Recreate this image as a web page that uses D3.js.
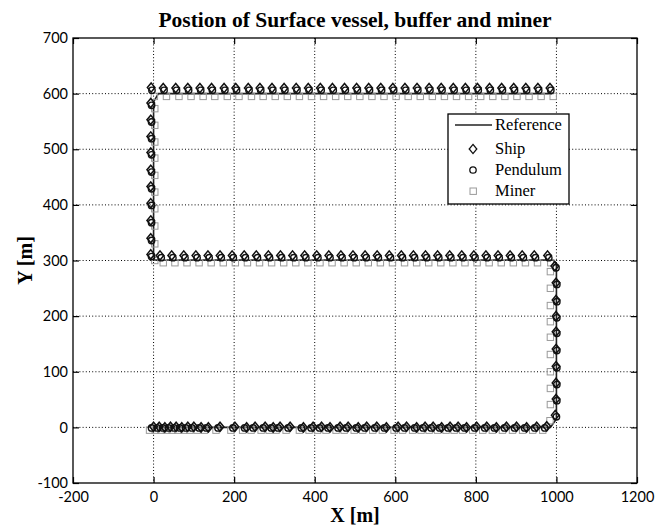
<!DOCTYPE html>
<html>
<head>
<meta charset="utf-8">
<script src="https://cdn.jsdelivr.net/npm/d3@7"></script>
<style>
  body { margin: 0; background: #fff; }
  svg { display: block; }
</style>
</head>
<body>
<div id="chart"></div>
<script>
// tick values
const xTicks = [-200, 0, 200, 400, 600, 800, 1000, 1200];
const yTicks = [-100, 0, 100, 200, 300, 400, 500, 600, 700];

// reference path
const refX = [0, 985, 1000, 1000, 992, 0, 0, 12, 990];
const refY = [0, 0, 15, 293, 301, 301, 585, 600, 600];

// surface vessel
const shipPts = [
  [0,1],[14,1],[28,0],[42,1],[56,1],[70,0],[85,1],[100,1],[118,0],[136,0],[165,1],[202,1],[231,0],[252,1],[277,1],[297,0],[314,1],[339,1],[372,0],[396,1],[417,1],[438,0],[463,1],[483,1],[508,0],[529,1],[554,1],[578,0],[607,1],[628,1],[653,0],[674,1],[694,1],[715,0],[736,1],[756,1],[777,0],[802,1],[827,1],[851,0],[876,1],[901,1],[926,0],[951,1],[976,2],
  [997,22],[999,51],[999,80],[999,110],[999,141],[999,172],[999,200],[999,229],[999,260],[996,290],
  [978,309],[945,309],[915,309],[885,309],[855,309],[825,309],[795,309],[765,309],[735,309],[705,309],[675,309],[645,309],[615,309],[585,309],[555,309],[525,309],[495,309],[465,309],[435,309],[405,309],[375,309],[345,309],[315,309],[285,309],[255,309],[225,309],[195,309],[165,309],[135,309],[105,309],[75,309],[45,309],[16,309],[-7,311],
  [-7,340],[-7,372],[-7,403],[-7,433],[-7,463],[-7,494],[-7,523],[-7,553],[-7,583],
  [-6,611],[24,610],[55,610],[85,610],[115,610],[144,610],[175,610],[204,610],[235,610],[264,610],[294,610],[324,610],[354,610],[384,610],[414,610],[444,610],[474,610],[504,610],[534,610],[564,610],[594,610],[624,610],[654,610],[684,610],[714,610],[744,610],[774,610],[804,610],[834,610],[864,610],[894,610],[924,610],[954,610],[984,610]
];

// buffer (pendulum)
const pendPts = [
  [-5,-1],[9,-1],[23,-1],[37,-1],[51,-1],[65,-1],[80,-1],[95,-1],[113,-1],[131,-1],[160,-1],[197,-1],[226,-1],[247,-1],[272,-1],[292,-1],[309,-1],[334,-1],[367,-1],[391,-1],[412,-1],[433,-1],[458,-1],[478,-1],[503,-1],[524,-1],[549,-1],[573,-1],[602,-1],[623,-1],[648,-1],[669,-1],[689,-1],[710,-1],[731,-1],[751,-1],[772,-1],[797,-1],[822,-1],[846,-1],[871,-1],[896,-1],[921,-1],[946,-1],[971,-1],
  [1000,19],[1001,48],[1001,77],[1001,107],[1001,138],[1001,169],[1001,197],[1001,226],[1001,257],[999,287],
  [981,305],[948,305],[918,305],[888,305],[858,305],[828,305],[798,305],[768,305],[738,305],[708,305],[678,305],[648,305],[618,305],[588,305],[558,305],[528,305],[498,305],[468,305],[438,305],[408,305],[378,305],[348,305],[318,305],[288,305],[258,305],[228,305],[198,305],[168,305],[138,305],[108,305],[78,305],[48,305],[19,305],[-5,307],
  [-5,336],[-5,368],[-5,399],[-5,429],[-5,459],[-5,490],[-5,519],[-5,549],[-5,579],
  [-4,606],[26,606],[57,606],[87,606],[117,606],[146,606],[177,606],[206,606],[237,606],[266,606],[296,606],[326,606],[356,606],[386,606],[416,606],[446,606],[476,606],[506,606],[536,606],[566,606],[596,606],[626,606],[656,606],[686,606],[716,606],[746,606],[776,606],[806,606],[836,606],[866,606],[896,606],[926,606],[956,606],[986,606]
];

// miner
const minerPts = [
  [-10,-5],[4,-5],[18,-5],[32,-5],[46,-5],[60,-5],[75,-5],[90,-5],[108,-5],[126,-5],[155,-5],[192,-5],[221,-5],[242,-5],[267,-5],[287,-5],[304,-5],[329,-5],[362,-5],[386,-5],[407,-5],[428,-5],[453,-5],[473,-5],[498,-5],[519,-5],[544,-5],[568,-5],[597,-5],[618,-5],[643,-5],[664,-5],[684,-5],[705,-5],[726,-5],[746,-5],[767,-5],[792,-5],[817,-5],[841,-5],[866,-5],[891,-5],[916,-5],[941,-5],[966,-5],
  [984,12],[985,41],[985,70],[985,100],[985,131],[985,162],[985,190],[985,219],[985,250],[985,280],
  [986,296],[953,296],[923,296],[893,296],[863,296],[833,296],[803,296],[773,296],[743,296],[713,296],[683,296],[653,296],[623,296],[593,296],[563,296],[533,296],[503,296],[473,296],[443,296],[413,296],[383,296],[353,296],[323,296],[293,296],[263,296],[233,296],[203,296],[173,296],[143,296],[113,296],[83,296],[53,296],[24,296],[3,300],
  [3,330],[3,362],[3,393],[3,423],[3,453],[3,484],[3,513],[3,543],[3,573],
  [2,595],[32,595],[63,595],[93,595],[123,595],[152,595],[183,595],[212,595],[243,595],[272,595],[302,595],[332,595],[362,595],[392,595],[422,595],[452,595],[482,595],[512,595],[542,595],[572,595],[602,595],[632,595],[662,595],[692,595],[722,595],[752,595],[782,595],[812,595],[842,595],[872,595],[902,595],[932,595],[962,595],[992,595]
];

const legendLabels = ["Reference", "Ship", "Pendulum", "Miner"];

const W = 665, H = 526;
const margin = { top: 38, right: 28, bottom: 43, left: 73 };
const width = W - margin.left - margin.right;
const height = H - margin.top - margin.bottom;

const svg = d3.select("#chart").append("svg")
  .attr("width", W)
  .attr("height", H);

const g = svg.append("g")
  .attr("transform", "translate(" + margin.left + "," + margin.top + ")");

const x = d3.scaleLinear().domain([-200, 1200]).range([0, width]);
const y = d3.scaleLinear().domain([-100, 700]).range([height, 0]);

// grid (dotted)
g.selectAll("line.gx")
  .data(xTicks.slice(1, -1))
  .enter().append("line")
  .attr("class", "gx")
  .attr("x1", d => x(d)).attr("x2", d => x(d))
  .attr("y1", 0).attr("y2", height)
  .attr("stroke", "#000").attr("stroke-width", 1)
  .attr("stroke-dasharray", "1,2.2");

g.selectAll("line.gy")
  .data(yTicks.slice(1, -1))
  .enter().append("line")
  .attr("class", "gy")
  .attr("x1", 0).attr("x2", width)
  .attr("y1", d => y(d)).attr("y2", d => y(d))
  .attr("stroke", "#000").attr("stroke-width", 1)
  .attr("stroke-dasharray", "1,2.2");

// ejes
const fontTicks = "Lato, 'DejaVu Sans', sans-serif";
const fmt = d => String(d);

const ax = g.append("g")
  .attr("transform", "translate(0," + height + ")")
  .call(d3.axisBottom(x).tickValues(xTicks).tickFormat(fmt).tickSize(-6).tickPadding(9));
const ay = g.append("g")
  .call(d3.axisLeft(y).tickValues(yTicks).tickFormat(fmt).tickSize(-6).tickPadding(5));
const at = g.append("g")
  .call(d3.axisTop(x).tickValues(xTicks).tickSize(-6).tickFormat(""));
const ar = g.append("g")
  .attr("transform", "translate(" + width + ",0)")
  .call(d3.axisRight(y).tickValues(yTicks).tickSize(-6).tickFormat(""));

[ax, ay, at, ar].forEach(a => {
  a.select(".domain").remove();
  a.selectAll(".tick line").attr("stroke", "#000").attr("stroke-width", 1.2);
  a.selectAll("text")
    .attr("font-family", fontTicks)
    .attr("font-size", "14.5px")
    .attr("fill", "#000");
});

// box
g.append("rect")
  .attr("x", 0).attr("y", 0)
  .attr("width", width).attr("height", height)
  .attr("fill", "none")
  .attr("stroke", "#000")
  .attr("stroke-width", 1.3);

// markers
const diamond = "M0,-4.6L3.8,0L0,4.6L-3.8,0Z";

// referencia
const line = d3.line().x(d => x(d[0])).y(d => y(d[1]));
g.append("path")
  .datum(refX.map((v, i) => [v, refY[i]]))
  .attr("d", line)
  .attr("fill", "none")
  .attr("stroke", "#222")
  .attr("stroke-width", 1.6);

g.selectAll("rect.miner")
  .data(minerPts)
  .enter().append("rect")
  .attr("class", "miner")
  .attr("x", d => x(d[0]) - 3.2)
  .attr("y", d => y(d[1]) - 3.2)
  .attr("width", 6.4).attr("height", 6.4)
  .attr("fill", "none")
  .attr("stroke", "#9a9a9a")
  .attr("stroke-width", 1);

g.selectAll("path.ship")
  .data(shipPts)
  .enter().append("path")
  .attr("class", "ship")
  .attr("d", diamond)
  .attr("transform", d => "translate(" + x(d[0]) + "," + y(d[1]) + ")")
  .attr("fill", "none")
  .attr("stroke", "#111")
  .attr("stroke-width", 1.5);

g.selectAll("circle.pend")
  .data(pendPts)
  .enter().append("circle")
  .attr("class", "pend")
  .attr("cx", d => x(d[0]))
  .attr("cy", d => y(d[1]))
  .attr("r", 3.2)
  .attr("fill", "none")
  .attr("stroke", "#111")
  .attr("stroke-width", 1.4);

// leyenda
const lg = svg.append("g").attr("transform", "translate(448,114)");
lg.append("rect")
  .attr("width", 121).attr("height", 90)
  .attr("fill", "#fff")
  .attr("stroke", "#000")
  .attr("stroke-width", 1.3);

const rowY = [11, 35, 56, 77];
lg.append("line")
  .attr("x1", 7).attr("x2", 44)
  .attr("y1", rowY[0]).attr("y2", rowY[0])
  .attr("stroke", "#222").attr("stroke-width", 1.6);
lg.append("path")
  .attr("d", diamond)
  .attr("transform", "translate(25," + rowY[1] + ")")
  .attr("fill", "none").attr("stroke", "#111").attr("stroke-width", 1.3);
lg.append("circle")
  .attr("cx", 25).attr("cy", rowY[2]).attr("r", 3.2)
  .attr("fill", "none").attr("stroke", "#111").attr("stroke-width", 1.3);
lg.append("rect")
  .attr("x", 22).attr("y", rowY[3] - 3).attr("width", 6.4).attr("height", 6.4)
  .attr("fill", "none").attr("stroke", "#9a9a9a").attr("stroke-width", 1);

lg.selectAll("text.leg")
  .data(legendLabels)
  .enter().append("text")
  .attr("class", "leg")
  .attr("x", 47)
  .attr("y", (d, i) => rowY[i] + 5)
  .attr("font-family", "'Liberation Serif', 'Times New Roman', serif")
  .attr("font-size", "16.5px")
  .attr("fill", "#000")
  .text(d => d);

// titulos
const serif = "'Liberation Serif', 'Times New Roman', serif";
svg.append("text")
  .attr("x", margin.left + width / 2)
  .attr("y", 27)
  .attr("text-anchor", "middle")
  .attr("font-family", serif)
  .attr("font-weight", "bold")
  .attr("font-size", "21.5px")
  .text("Postion of Surface vessel, buffer and miner");

svg.append("text")
  .attr("x", margin.left + width / 2)
  .attr("y", 522)
  .attr("text-anchor", "middle")
  .attr("font-family", serif)
  .attr("font-weight", "bold")
  .attr("font-size", "20px")
  .text("X [m]");

svg.append("text")
  .attr("transform", "translate(32," + (margin.top + height / 2) + ") rotate(-90)")
  .attr("text-anchor", "middle")
  .attr("font-family", serif)
  .attr("font-weight", "bold")
  .attr("font-size", "20px")
  .text("Y [m]");
</script>
</body>
</html>
